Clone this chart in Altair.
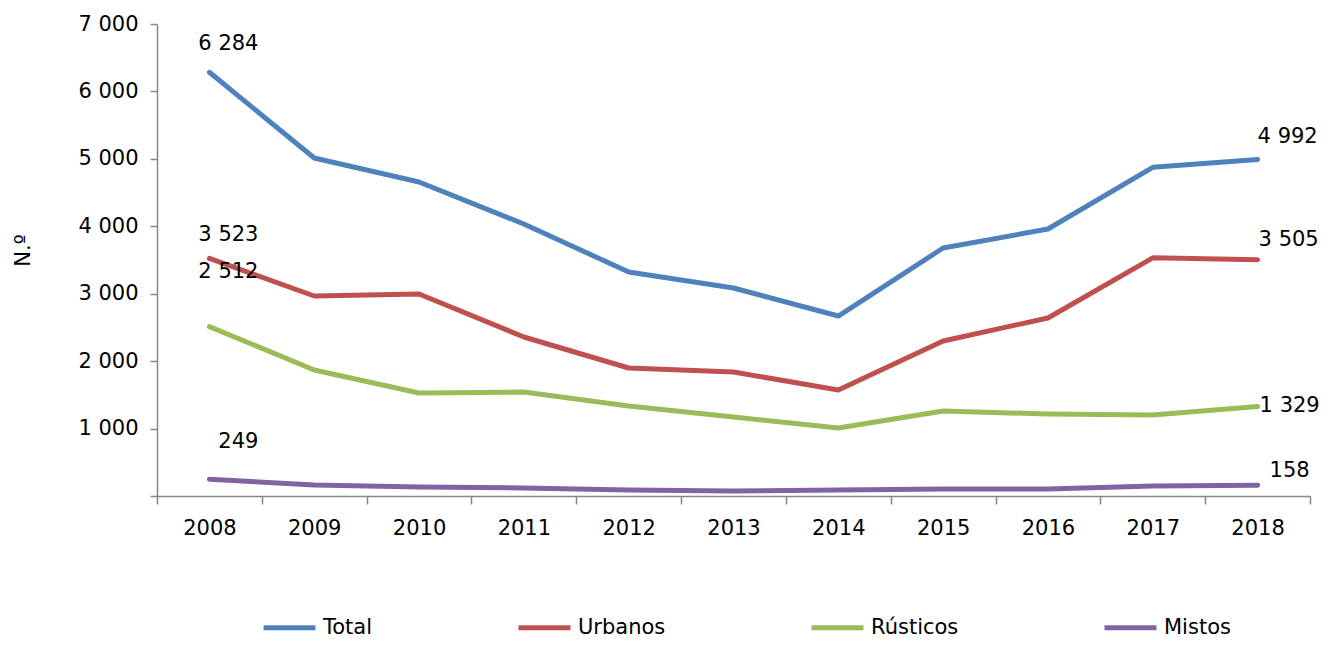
import altair as alt
import pandas as pd

years = [2008, 2009, 2010, 2011, 2012, 2013, 2014, 2015, 2016, 2017, 2018]
total = [6284, 5013, 4657, 4034, 3322, 3085, 2669, 3678, 3960, 4875, 4992]
urbanos = [3523, 2966, 2996, 2358, 1898, 1839, 1572, 2299, 2640, 3532, 3505]
rusticos = [2512, 1869, 1527, 1542, 1335, 1172, 1008, 1261, 1216, 1201, 1329]
mistos = [249, 163, 133, 119, 89, 74, 89, 104, 104, 148, 158]

series_names = ["Total", "Urbanos", "Rústicos", "Mistos"]
series_values = [total, urbanos, rusticos, mistos]
colors = ["#4F81BD", "#C0504D", "#9BBB59", "#8064A2"]

rows = []
for name, vals in zip(series_names, series_values):
    for i, (y, v) in enumerate(zip(years, vals)):
        rows.append({"Ano": y, "Série": name, "Valor": v, "idx": i})
df = pd.DataFrame(rows)

FONT = "DejaVu Sans"
FS = 21

x_vals = [2007.5] + [v for y in years for v in (y, y + 0.5)]

x_enc = alt.X(
    "Ano:Q",
    scale=alt.Scale(domain=[2007.5, 2018.5], nice=False, zero=False),
    axis=alt.Axis(
        values=x_vals,
        labelExpr="datum.value % 1 === 0 ? '' + datum.value : ''",
        tickOpacity={"condition": {"test": "datum.value % 1 !== 0", "value": 1}, "value": 0},
        grid=False,
        title=None,
        tickSize=8,
        labelPadding=13,
        domainColor="#868686",
        tickColor="#868686",
        domainWidth=1.5,
        tickWidth=1.5,
        labelFont=FONT,
        labelFontSize=FS,
        labelColor="#000000",
        labelFlush=False,
        labelOverlap=False,
    ),
)

y_enc = alt.Y(
    "Valor:Q",
    scale=alt.Scale(domain=[0, 7000], nice=False),
    axis=alt.Axis(
        values=[0, 1000, 2000, 3000, 4000, 5000, 6000, 7000],
        labelExpr="datum.value === 0 ? '' : replace(format(datum.value, ','), ',', ' ')",
        grid=False,
        title="N.º",
        titleFont=FONT,
        titleFontSize=FS,
        titleFontWeight="normal",
        titleColor="#000000",
        titleX=-134,
        titleY=226,
        titleAlign="center",
        titleBaseline="middle",
        tickSize=7,
        labelPadding=12,
        domainColor="#868686",
        tickColor="#868686",
        domainWidth=1.5,
        tickWidth=1.5,
        labelFont=FONT,
        labelFontSize=FS,
        labelColor="#000000",
        labelOverlap=False,
    ),
)

lines = alt.Chart(df).mark_line(strokeWidth=5, strokeCap="round", strokeJoin="round").encode(
    x=x_enc,
    y=y_enc,
    color=alt.Color(
        "Série:N",
        scale=alt.Scale(domain=series_names, range=colors),
        sort=series_names,
        legend=alt.Legend(
            orient="none",
            direction="horizontal",
            columns=4,
            legendX=104,
            legendY=575,
            title=None,
            symbolType="stroke",
            symbolSize=2700,
            symbolStrokeWidth=5,
            labelFont=FONT,
            labelFontSize=FS,
            labelColor="#000000",
            labelOffset=5,
            columnPadding=135,
        ),
    ),
    order="idx:Q",
)

label_specs = [
    ("Total", 0, 19, -28, "center"),
    ("Urbanos", 0, 19, -23, "center"),
    ("Rústicos", 0, 19, -55, "center"),
    ("Mistos", 0, 29, -37, "center"),
    ("Total", 10, 0, -22, "left"),
    ("Urbanos", 10, 1, -20, "left"),
    ("Rústicos", 10, 2, 0, "left"),
    ("Mistos", 10, 12, -14, "left"),
]

layers = [lines]
for name, i, dx, dy, align in label_specs:
    t = (
        alt.Chart(df)
        .transform_filter((alt.datum["Série"] == name) & (alt.datum.idx == i))
        .transform_calculate(lbl="replace(format(datum.Valor, ','), ',', ' ')")
        .mark_text(font=FONT, fontSize=FS, color="#000000", dx=dx, dy=dy, align=align, baseline="middle")
        .encode(x="Ano:Q", y="Valor:Q", text="lbl:N")
    )
    layers.append(t)

chart = (
    alt.layer(*layers)
    .properties(
        width=1153,
        height=472,
        autosize=alt.AutoSizeParams(type="none"),
        padding={"left": 149, "top": 16, "right": 10, "bottom": 146},
        background="#ffffff",
        view=alt.ViewBackground(strokeOpacity=0, strokeWidth=0),
    )
    .configure_view(strokeWidth=0, strokeOpacity=0)
)

chart.save("out.html", embed_options={"renderer": "svg", "actions": False})
